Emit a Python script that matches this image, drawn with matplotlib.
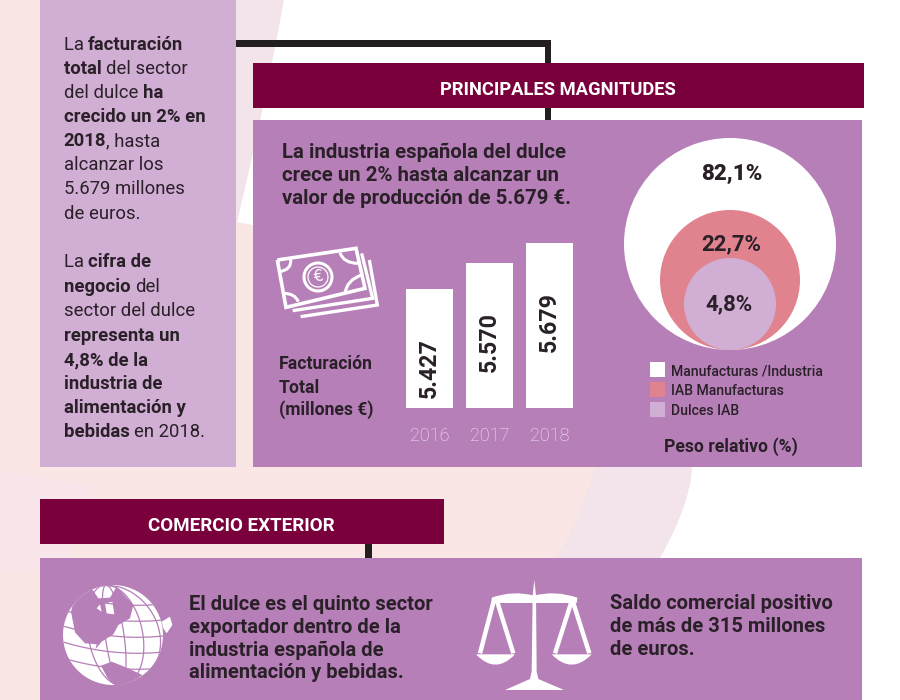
import numpy as np
import matplotlib
matplotlib.use("Agg")
import matplotlib.pyplot as plt
from matplotlib.patches import Rectangle, Circle, Polygon, PathPatch
from matplotlib.path import Path

# ---- data ----
years = ["2016", "2017", "2018"]
facturacion = [5427, 5570, 5679]
facturacion_labels = ["5.427", "5.570", "5.679"]
peso_labels = ["Manufacturas /Industria", "IAB Manufacturas", "Dulces IAB"]
peso_values = ["82,1%", "22,7%", "4,8%"]

# ---- style ----
INK = "#2A2028"; WINE = "#7A003C"; PANEL = "#B67FB8"; PANEL_L = "#D1AED4"
ROSE = "#E0838E"; PEACH = "#FAE6E4"; BAND = "#F3E3EA"; FONT = "Roboto"
peso_colors = ["white", ROSE, PANEL_L]
peso_radii = [106, 70, 46]

fig = plt.figure(figsize=(9, 7), dpi=100)
ax = fig.add_axes([0, 0, 1, 1])
ax.set_xlim(0, 900); ax.set_ylim(700, 0); ax.axis("off")
M, C3, L = Path.MOVETO, Path.CURVE3, Path.LINETO

# ---- background ----
ax.add_patch(Rectangle((0, 0), 900, 700, fc=PEACH, ec="none", zorder=0))
ax.add_patch(PathPatch(Path([(0, 470), (95, 486), (78, 530), (62, 570), (0, 570), (0, 470)],
                            [M, L, L, L, L, L]), fc="#F8E6EA", ec="none", zorder=0.2))
ax.add_patch(PathPatch(Path([(236, 0), (284, 0), (262, 120), (237, 222), (236, 222), (236, 0)],
                            [M, L, C3, C3, L, L]), fc=BAND, ec="none", zorder=0.2))
ax.add_patch(PathPatch(Path([(300, 300), (640, 300), (600, 490), (552, 565), (552, 600), (700, 600), (720, 300), (640, 300)],
                            [M, L, C3, C3, L, L, L, L]), fc=BAND, ec="none", zorder=0.2))
ax.add_patch(PathPatch(Path([(284, 0), (900, 0), (900, 700), (640, 700), (660, 558), (690, 505), (692, 468),
                             (700, 300), (300, 240), (253, 225), (237, 222), (262, 120), (284, 0)],
                            [M, L, L, L, L, C3, C3, L, L, L, L, C3, C3]),
                       fc="white", ec="none", zorder=0.5))

# ---- connectors ----
ax.add_patch(Rectangle((236, 40), 315, 6.5, fc="#231F20", ec="none", zorder=1))
ax.add_patch(Rectangle((544.5, 40), 6.5, 82, fc="#231F20", ec="none", zorder=1))
ax.add_patch(Rectangle((365, 540), 6.5, 20, fc="#231F20", ec="none", zorder=1))

# ---- panels ----
for (x, y, w, h, c) in [(40, 0, 196, 467, PANEL_L), (253, 120, 609, 347, PANEL),
                        (253, 63, 611, 45, WINE), (40, 499, 404, 45, WINE), (40, 558, 822, 142, PANEL)]:
    ax.add_patch(Rectangle((x, y), w, h, fc=c, ec="none", zorder=2))

def runs(x, y, parts, size_b, size_r, color=INK):
    r = fig.canvas.get_renderer()
    for s, bold in parts:
        t = ax.text(x, y, s, fontsize=size_b if bold else size_r, color=color, family=FONT, va="baseline",
                    fontweight="bold" if bold else "normal", zorder=5)
        x += t.get_window_extent(r).width

def line(x, y, s, size, w="bold", c=INK, ha="left", **kw):
    ax.text(x, y, s, fontsize=size, color=c, family=FONT, fontweight=w, ha=ha, va="baseline", zorder=5, **kw)

# ---- left column ----
p1 = [(50, [("La ", 0), ("facturación", 1)]), (74, [("total ", 1), ("del sector", 0)]),
      (98, [("del dulce ", 0), ("ha", 1)]), (122, [("crecido un 2% en", 1)]),
      (146, [("2018", 1), (", hasta", 0)]), (170, [("alcanzar los", 0)]),
      (194, [("5.679 millones", 0)]), (219, [("de euros.", 0)]),
      (267, [("La ", 0), ("cifra de", 1)]), (292, [("negocio ", 1), ("del", 0)]),
      (316, [("sector del dulce", 0)]), (341, [("representa un", 1)]),
      (365, [("4,8% de la", 1)]), (389, [("industria de", 1)]),
      (413, [("alimentación y", 1)]), (437, [("bebidas ", 1), ("en 2018.", 0)])]
for y, parts in p1:
    runs(63.5, y, parts, 13.3, 13.3)

# ---- headers ----
line(557.5, 95, "PRINCIPALES MAGNITUDES", 13.2, c="white", ha="center")
line(241.5, 531, "COMERCIO EXTERIOR", 13.5, c="white", ha="center")

# ---- headline ----
for y, s in zip([158, 181, 204], ["La industria española del dulce", "crece un 2% hasta alcanzar un",
                                  "valor de producción de 5.679 €."]):
    line(282, y, s, 14.7)
for y, s in zip([369, 393, 415], ["Facturación", "Total", "(millones €)"]):
    line(279, y, s, 12.7)

# ---- bars ----
bx = fig.add_axes([406 / 900, 1 - 408 / 700, 167 / 900, 165 / 700])
bx.patch.set_alpha(0)
pos = np.arange(len(years))
bx.bar(pos, facturacion, width=0.78, color="white", zorder=3)
bx.set_xlim(-0.39, 2.39); bx.set_ylim(4775, 5679)
for s in bx.spines.values():
    s.set_visible(False)
bx.set_yticks([]); bx.set_xticks(pos, years)
bx.tick_params(axis="x", length=0, pad=14, labelcolor="#F3E6F3", labelsize=13)
for lb in bx.get_xticklabels():
    lb.set_family(FONT); lb.set_fontweight("light")
for p, v, s in zip(pos, facturacion, facturacion_labels):
    bx.annotate(s, (p, v), xytext=(0, -79 * 0.72), textcoords="offset points", rotation=90,
                ha="center", va="center", fontsize=16.7, fontweight="bold", family=FONT, color=INK)

# ---- nested circles ----
bottom = 350
for r, c in zip(peso_radii, peso_colors):
    ax.add_patch(Circle((730, bottom - r), r, fc=c, ec="none", zorder=3))
for (x, y), s, w in zip([(732, 180), (731, 250), (729, 310)], peso_values, ["black", "bold", "bold"]):
    line(x, y, s, 16, w=w, ha="center")
for y, s, c in zip([362, 382, 402], peso_labels, peso_colors):
    ax.add_patch(Rectangle((650, y), 15, 15, fc=c, ec="none", zorder=3))
    line(671, y + 13, s, 10.1, w="medium")
line(664, 452, "Peso relativo (%)", 12.7)

# ---- bottom text ----
for y, s in zip([610, 633, 656, 678], ["El dulce es el quinto sector", "exportador dentro de la",
                                       "industria española de", "alimentación y bebidas."]):
    line(189, y, s, 14.5)
for y, s in zip([609, 632, 655], ["Saldo comercial positivo", "de más de 315 millones", "de euros."]):
    line(610, y, s, 14.5)

# ---- banknotes icon (zoom coordinates -> pixels) ----
def Z(pts, ox, oy):
    return [(ox + a / 3, oy + b / 3) for a, b in pts]

def stroke(pts, ox, oy, lw, color="white", z=4):
    xy = np.array(Z(pts, ox, oy))
    ax.plot(xy[:, 0], xy[:, 1], color=color, lw=lw, zorder=z, solid_joinstyle="miter", solid_capstyle="butt")

stroke([(82, 90), (318, 55), (345, 175), (108, 232), (82, 90)], 250, 230, 2.6)
stroke([(128, 242), (368, 205), (335, 70)], 250, 230, 2.4)
stroke([(152, 260), (382, 225), (358, 90)], 250, 230, 2.4)
for a, b, c_ in [((88, 125), (125, 120), (122, 88)), ((270, 68), (280, 100), (325, 100)),
                 ((100, 190), (135, 190), (145, 215)), ((285, 190), (290, 150), (335, 135))]:
    xy = Z([a, b, c_], 250, 230)
    ax.add_patch(PathPatch(Path(xy, [M, C3, C3]), fc="none", ec="white", lw=2.2, zorder=4))
ax.add_patch(Circle((318, 277), 14, fc="none", ec="white", lw=2.2, zorder=4))
ax.add_patch(Circle((318, 277), 10, fc="none", ec="white", lw=0.9, zorder=4))
ax.text(318, 277, "€", color="white", fontsize=11, ha="center", va="center", family="DejaVu Sans",
        rotation=10, zorder=5)

# ---- globe icon ----
gx, gy, gr = 113, 635, 50
ax.add_patch(Circle((gx, gy), gr, fc="white", ec="none", zorder=3))
clip = Circle((gx, gy), gr, transform=ax.transData)
continents = [
    [(60, 62), (110, 40), (130, 70), (165, 68), (185, 35), (235, 90), (225, 130), (190, 150), (175, 178),
     (140, 200), (122, 222), (90, 205), (60, 172), (48, 110)],
    [(138, 272), (170, 260), (220, 280), (262, 300), (235, 322), (180, 332), (158, 310)],
]
for c in continents:
    p = Polygon(Z(c, 55, 575), closed=True, fc=PANEL, ec="none", zorder=3.2)
    ax.add_patch(p); p.set_clip_path(clip)
for c in [[(150, 85), (172, 80), (178, 118), (155, 115)], [(140, 110), (125, 100), (135, 88)],
          [(92, 205), (125, 208), (118, 235), (95, 222)], [(125, 240), (170, 235), (172, 245), (130, 248)]]:
    ax.add_patch(Polygon(Z(c, 55, 575), closed=True, fc="white", ec="none", zorder=3.3))
ax.add_patch(Polygon(Z([(320, 140), (345, 125), (352, 150), (335, 175), (325, 160)], 55, 575), closed=True,
                     fc="white", ec="none", zorder=3))
t = np.linspace(-1, 1, 60)
for k in [-0.72, -0.38, 0.0, 0.38, 0.72]:
    xs = gx + gr * (k + 0.22) * np.sqrt(1 - t ** 2) + 7 * t
    ys = gy + gr * t
    l_, = ax.plot(xs, ys, color=PANEL, lw=0.9, zorder=3.4); l_.set_clip_path(clip)
for k in [-0.62, -0.3, 0.02, 0.34, 0.66]:
    xs2 = gx + gr * t
    ys2 = gy + gr * k + 5 * t - 5 * (t ** 2)
    l_, = ax.plot(xs2, ys2, color=PANEL, lw=0.9, zorder=3.4); l_.set_clip_path(clip)

# ---- scales icon ----
W = dict(fc="white", ec="none", zorder=4)
ax.add_patch(PathPatch(Path(Z([(65, 68), (130, 45), (192, 62), (255, 45), (322, 68), (320, 84), (65, 84), (65, 68)], 470, 575),
                            [M, C3, C3, C3, C3, L, L, L]), **W))
ax.add_patch(Polygon(Z([(193, 15), (198, 62), (200, 290), (205, 312), (282, 345), (105, 345), (180, 312), (185, 290),
                        (188, 62)], 470, 575), **W))
for arm in [[(72, 75), (30, 235)], [(80, 75), (130, 235)], [(305, 78), (255, 235)], [(308, 78), (358, 235)]]:
    stroke(arm, 470, 575, 3.2)
for a_, b_ in [(18, 135), (245, 365)]:
    mid = (a_ + b_) / 2
    xy = Z([(a_, 238), (mid, 300), (b_, 238), (a_, 238)], 470, 575)
    ax.add_patch(PathPatch(Path(xy, [M, C3, C3, L]), **W))

fig.savefig("out.png", dpi=100)
